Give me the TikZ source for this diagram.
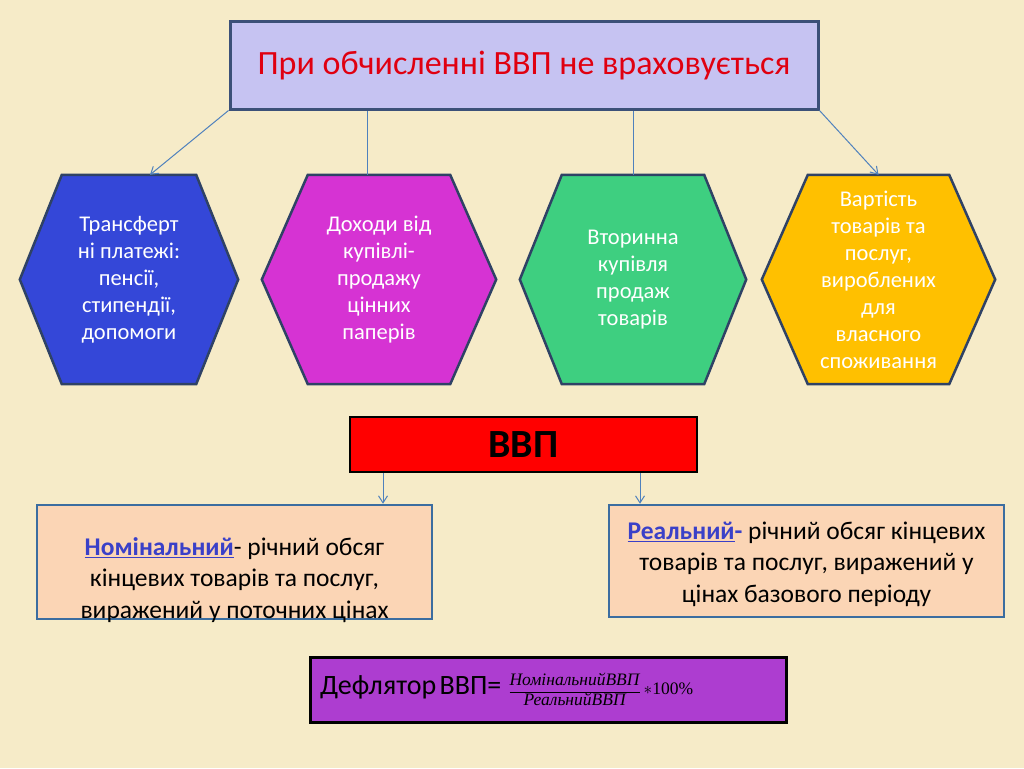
\documentclass[tikz,border=0pt]{standalone}
\usepackage{fontspec}
\setmainfont{Carlito}
\newfontfamily\tnr{Liberation Serif}
\usetikzlibrary{arrows.meta,backgrounds}
\definecolor{bg}{HTML}{F6EBC8}
\definecolor{topfill}{HTML}{C6C3F2}
\definecolor{topborder}{HTML}{3C5078}
\definecolor{titlered}{HTML}{E00010}
\definecolor{hexborder}{HTML}{2F4265}
\definecolor{conncol}{HTML}{4F81BD}
\definecolor{hexA}{HTML}{3447D8}
\definecolor{hexB}{HTML}{D633D3}
\definecolor{hexC}{HTML}{3ECF80}
\definecolor{hexD}{HTML}{FFC000}
\definecolor{peach}{HTML}{FBD5B5}
\definecolor{peachborder}{HTML}{3B6DA0}
\definecolor{hl}{HTML}{3A40C8}
\definecolor{deffill}{HTML}{AD3DD0}
\newcommand{\hexagonpath}[3]{%
  \path[hexline,fill=#3] (#1.west) -- ([xshift=#2]#1.north west) -- ([xshift=-#2]#1.north east) -- (#1.east) -- ([xshift=-#2]#1.south east) -- ([xshift=#2]#1.south west) -- cycle;}
\begin{document}
\begin{tikzpicture}[x=1pt,y=-1pt,
  hexnode/.style={draw=none,inner sep=0pt,align=center,text=white,font=\fontsize{22.5}{27}\selectfont},
  hexline/.style={draw=hexborder,line width=2.5pt,line join=miter},
  conn/.style={draw=conncol,line width=1pt},
  arr/.style={conn,-{Straight Barb[length=7pt,width=9pt]}},
  peachbox/.style={draw=peachborder,line width=2.5pt,fill=peach,inner sep=0pt},
  bodytext/.style={align=center,font=\fontsize{25.5}{31.5}\selectfont,text=black}
]
\useasboundingbox (0,0) rectangle (1024,768);
% nodes
\node[draw=topborder,line width=3pt,fill=topfill,minimum width=588pt,minimum height=87pt,inner sep=0pt,
      text=titlered,font=\fontsize{34}{38}\selectfont] (top) at (524,65.5) {При обчисленні ВВП не враховується};

\node[hexnode,minimum width=218pt,minimum height=209pt] (h1) at (129,279.5)
  {Трансферт\\ні платежі:\\пенсії,\\стипендії,\\допомоги};
\node[hexnode,minimum width=234pt,minimum height=209pt] (h2) at (379,279.5)
  {Доходи від\\купівлі-\\продажу\\цінних\\паперів};
\node[hexnode,minimum width=226pt,minimum height=209pt] (h3) at (633,279.5)
  {Вторинна\\купівля\\продаж\\товарів};
\node[hexnode,minimum width=233pt,minimum height=209pt] (h4) at (878.5,279.5)
  {Вартість\\товарів та\\послуг,\\вироблених\\для\\власного\\споживання};

\begin{pgfonlayer}{background}
  \fill[bg] (0,0) rectangle (1024,768);
  \hexagonpath{h1}{42}{hexA}
  \hexagonpath{h2}{46}{hexB}
  \hexagonpath{h3}{42}{hexC}
  \hexagonpath{h4}{46}{hexD}
\end{pgfonlayer}

\draw[arr] (top.south west) -- ([xshift=21]h1.north);
\draw[conn] ([xshift=-12]h2.north) -- ([xshift=-12]h2.north |- top.south);
\draw[conn] (h3.north) -- (h3.north |- top.south);
\draw[arr] (top.south east) -- (h4.north);

\node[draw=black,line width=2pt,fill=red,minimum width=347pt,minimum height=55pt,inner sep=0pt,
      font=\fontsize{40}{44}\selectfont\bfseries] (gdp) at (523.5,444.5) {ВВП};

\node[peachbox,minimum width=395pt,minimum height=114pt] (nom) at (234.5,562) {};
\node[bodytext] (nomtext) at ([yshift=-18]nom.center)
  {\textcolor{hl}{\textbf{\underline{Номінальний}}}- річний обсяг\\кінцевих товарів та послуг,\\виражений у поточних цінах};

\node[peachbox,minimum width=395pt,minimum height=112pt] (real) at (806.5,561) {};
\node[bodytext] (realtext) at ([yshift=-3]real.center)
  {\textcolor{hl}{\textbf{\underline{Реальний}-}} річний обсяг кінцевих\\товарів та послуг, виражений у\\цінах базового періоду};

\draw[arr] ([xshift=-140.5]gdp.south) -- ([xshift=-140.5]gdp.south |- nom.north);
\draw[arr] ([xshift=116.5]gdp.south) -- ([xshift=116.5]gdp.south |- real.north);

\node[draw=black,line width=3pt,fill=deffill,minimum width=476pt,minimum height=65pt,
      text width=456pt,inner xsep=10pt,inner ysep=0pt,align=left] (defl) at (548,689.5)
  {{\fontsize{28}{30}\selectfont Дефлятор ВВП=}\hspace{7pt}$\displaystyle\frac{\mbox{\raisebox{2pt}{\tnr\itshape\fontsize{17.5}{19}\selectfont НомінальнийВВП}}}{\mbox{\raisebox{-3pt}{\tnr\itshape\fontsize{17.5}{19}\selectfont РеальнийВВП}}}$\mbox{\tnr\fontsize{17.5}{19}\selectfont\,$\ast$100\%}};
\end{tikzpicture}
\end{document}
